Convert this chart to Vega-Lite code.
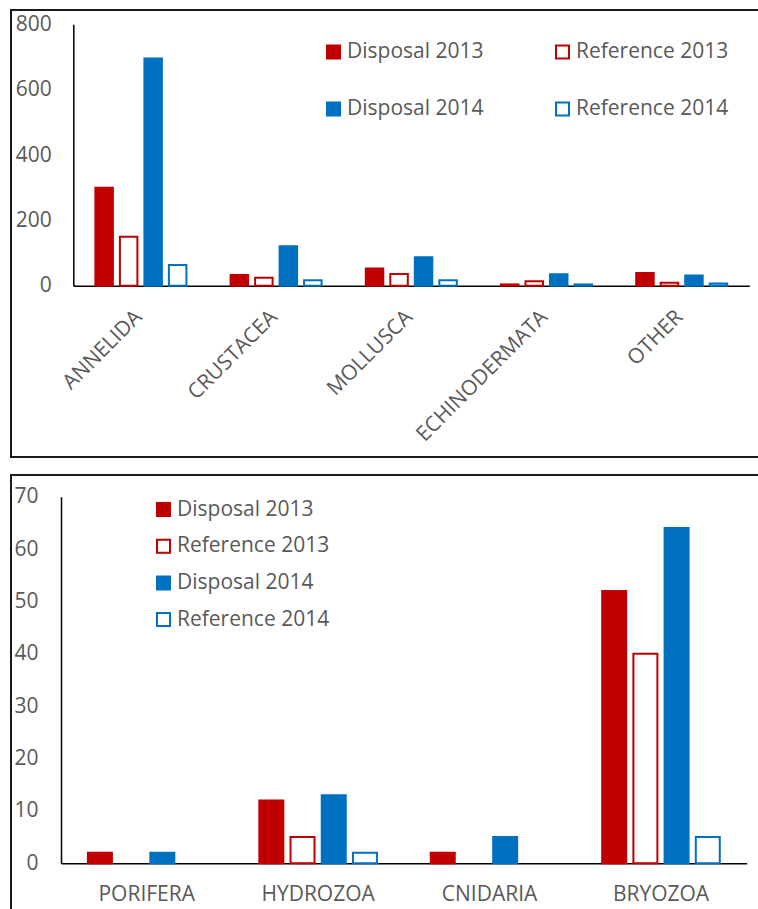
{
  "$schema": "https://vega.github.io/schema/vega-lite/v6.json",
  "autosize": {"type": "none"},
  "padding": {"left": 11, "top": 10, "right": 747, "bottom": 899},
  "bounds": "flush",
  "spacing": 18,
  "datasets": {
    "phyla": [
      {"taxon": "ANNELIDA", "series": "Disposal 2013", "count": 300},
      {"taxon": "ANNELIDA", "series": "Reference 2013", "count": 150},
      {"taxon": "ANNELIDA", "series": "Disposal 2014", "count": 695},
      {"taxon": "ANNELIDA", "series": "Reference 2014", "count": 63},
      {"taxon": "CRUSTACEA", "series": "Disposal 2013", "count": 33},
      {"taxon": "CRUSTACEA", "series": "Reference 2013", "count": 24},
      {"taxon": "CRUSTACEA", "series": "Disposal 2014", "count": 121},
      {"taxon": "CRUSTACEA", "series": "Reference 2014", "count": 17},
      {"taxon": "MOLLUSCA", "series": "Disposal 2013", "count": 53},
      {"taxon": "MOLLUSCA", "series": "Reference 2013", "count": 36},
      {"taxon": "MOLLUSCA", "series": "Disposal 2014", "count": 87},
      {"taxon": "MOLLUSCA", "series": "Reference 2014", "count": 17},
      {"taxon": "ECHINODERMATA", "series": "Disposal 2013", "count": 4},
      {"taxon": "ECHINODERMATA", "series": "Reference 2013", "count": 14},
      {"taxon": "ECHINODERMATA", "series": "Disposal 2014", "count": 35},
      {"taxon": "ECHINODERMATA", "series": "Reference 2014", "count": 4},
      {"taxon": "OTHER", "series": "Disposal 2013", "count": 39},
      {"taxon": "OTHER", "series": "Reference 2013", "count": 9},
      {"taxon": "OTHER", "series": "Disposal 2014", "count": 31},
      {"taxon": "OTHER", "series": "Reference 2014", "count": 7}
    ],
    "colonial": [
      {"taxon": "PORIFERA", "series": "Disposal 2013", "count": 2},
      {"taxon": "PORIFERA", "series": "Disposal 2014", "count": 2},
      {"taxon": "HYDROZOA", "series": "Disposal 2013", "count": 12},
      {"taxon": "HYDROZOA", "series": "Reference 2013", "count": 5},
      {"taxon": "HYDROZOA", "series": "Disposal 2014", "count": 13},
      {"taxon": "HYDROZOA", "series": "Reference 2014", "count": 2},
      {"taxon": "CNIDARIA", "series": "Disposal 2013", "count": 2},
      {"taxon": "CNIDARIA", "series": "Disposal 2014", "count": 5},
      {"taxon": "BRYOZOA", "series": "Disposal 2013", "count": 52},
      {"taxon": "BRYOZOA", "series": "Reference 2013", "count": 40},
      {"taxon": "BRYOZOA", "series": "Disposal 2014", "count": 64},
      {"taxon": "BRYOZOA", "series": "Reference 2014", "count": 5}
    ]
  },
  "vconcat": [
    {
      "data": {"name": "phyla"},
      "width": 800,
      "height": 447,
      "mark": {"type": "bar", "strokeWidth": 2},
      "encoding": {
        "x": {
          "field": "taxon", "type": "nominal",
          "sort": ["ANNELIDA", "CRUSTACEA", "MOLLUSCA", "ECHINODERMATA", "OTHER"],
          "scale": {"range": [62.3, 738.3], "paddingInner": 0.327, "paddingOuter": 0.1635},
          "axis": {"title": null, "offset": -171.3, "labelAngle": -45, "labelAlign": "right", "labelBaseline": "middle", "labelPadding": 28, "labelOffset": -2}
        },
        "xOffset": {
          "field": "series", "type": "nominal",
          "sort": ["Disposal 2013", "Reference 2013", "Disposal 2014", "Reference 2014"],
          "scale": {"paddingInner": 0.286, "paddingOuter": 0}
        },
        "y": {
          "field": "count", "type": "quantitative",
          "scale": {"domain": [0, 800], "range": [275.7, 14.3], "nice": false},
          "axis": {"title": null, "offset": -62.3, "values": [0, 200, 400, 600, 800], "labelPadding": 22}
        },
        "fill": {
          "field": "series", "type": "nominal",
          "scale": {"domain": ["Disposal 2013", "Reference 2013", "Disposal 2014", "Reference 2014"], "range": ["#C00000", "#FFFFFF", "#0070C0", "#FFFFFF"]},
          "legend": {"title": null, "orient": "none", "legendX": 312, "legendY": 31.5, "columns": 2, "columnPadding": 68, "rowPadding": 35,
                     "values": ["Disposal 2013", "Disposal 2014", "Reference 2013", "Reference 2014"],
                     "labelExpr": "datum.label == 'Reference 2013' ? '\u00a0' + datum.label : datum.label"}
        },
        "stroke": {
          "field": "series", "type": "nominal",
          "scale": {"domain": ["Disposal 2013", "Reference 2013", "Disposal 2014", "Reference 2014"], "range": ["#C00000", "#C00000", "#0070C0", "#0070C0"]},
          "legend": {"title": null, "orient": "none", "legendX": 312, "legendY": 31.5, "columns": 2, "columnPadding": 68, "rowPadding": 35,
                     "values": ["Disposal 2013", "Disposal 2014", "Reference 2013", "Reference 2014"],
                     "labelExpr": "datum.label == 'Reference 2013' ? '\u00a0' + datum.label : datum.label"}
        }
      }
    },
    {
      "data": {"name": "colonial"},
      "width": 800,
      "height": 450,
      "mark": {"type": "bar", "strokeWidth": 2},
      "encoding": {
        "x": {
          "field": "taxon", "type": "nominal",
          "sort": ["PORIFERA", "HYDROZOA", "CNIDARIA", "BRYOZOA"],
          "scale": {"range": [50, 735.7], "paddingInner": 0.314, "paddingOuter": 0.157},
          "axis": {"title": null, "offset": -61.7, "labelAngle": 0, "labelPadding": 20}
        },
        "xOffset": {
          "field": "series", "type": "nominal",
          "sort": ["Disposal 2013", "Reference 2013", "Disposal 2014", "Reference 2014"],
          "scale": {"domain": ["Disposal 2013", "Reference 2013", "Disposal 2014", "Reference 2014"], "paddingInner": 0.231, "paddingOuter": 0}
        },
        "y": {
          "field": "count", "type": "quantitative",
          "scale": {"domain": [0, 70], "range": [388.3, 21.7], "nice": false},
          "axis": {"title": null, "offset": -50, "values": [0, 10, 20, 30, 40, 50, 60, 70], "labelPadding": 23}
        },
        "fill": {
          "field": "series", "type": "nominal",
          "scale": {"domain": ["Disposal 2013", "Reference 2013", "Disposal 2014", "Reference 2014"], "range": ["#C00000", "#FFFFFF", "#0070C0", "#FFFFFF"]},
          "legend": {"title": null, "orient": "none", "legendX": 142, "legendY": 24, "direction": "vertical", "rowPadding": 14.7}
        },
        "stroke": {
          "field": "series", "type": "nominal",
          "scale": {"domain": ["Disposal 2013", "Reference 2013", "Disposal 2014", "Reference 2014"], "range": ["#C00000", "#C00000", "#0070C0", "#0070C0"]},
          "legend": {"title": null, "orient": "none", "legendX": 142, "legendY": 24, "direction": "vertical", "rowPadding": 14.7}
        }
      }
    }
  ],
  "resolve": {
    "scale": {"x": "independent", "y": "independent", "xOffset": "independent", "fill": "independent", "stroke": "independent"},
    "axis": {"x": "independent", "y": "independent"},
    "legend": {"fill": "independent", "stroke": "independent"}
  },
  "config": {
    "view": {"stroke": "#1a1a1a", "strokeWidth": 2},
    "axis": {
      "labelFont": "Open Sans", "labelFontSize": 21, "labelColor": "#595959",
      "domainColor": "#000000", "domainWidth": 1.5, "ticks": false, "grid": false
    },
    "legend": {
      "labelFont": "Open Sans", "labelFontSize": 21, "labelColor": "#595959",
      "symbolType": "square", "symbolSize": 169, "symbolStrokeWidth": 2,
      "labelOffset": 3, "padding": 0, "labelLimit": 300
    }
  }
}
